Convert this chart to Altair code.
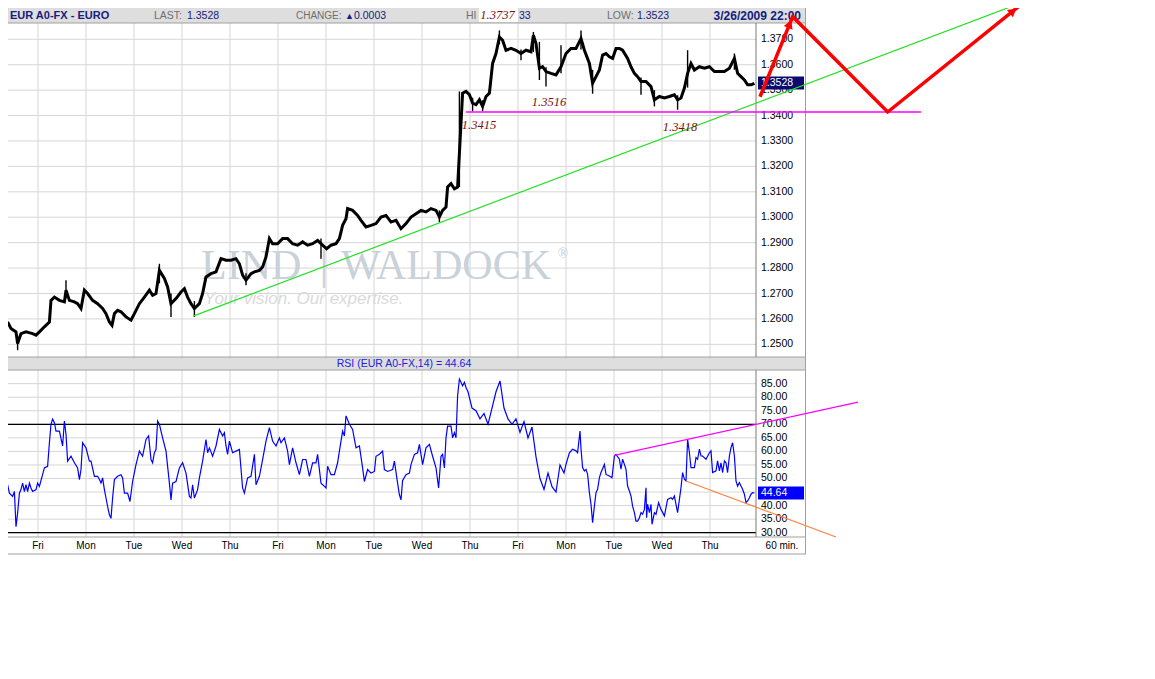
import altair as alt
import pandas as pd

# ------------------------------------------------------------------ data
# x unit: trading hour index (0 = Friday 00:00, one day = 24 hours, weekends skipped)
PRICE_T = [-15.2, -13.5, -11.0, -10.2, -8.5, -6.0, -2.7, -1.0, 0.7, 3.2, 5.7, 6.5, 8.2, 10.7, 13.2, 14.0,
           15.7, 18.2, 19.8, 21.5, 23.2, 24.8, 27.3, 29.8, 32.3, 34.0, 35.7, 37.0, 38.2, 39.8, 41.5, 44.0,
           46.5, 48.2, 50.7, 53.2, 55.7, 57.3, 59.0, 60.7, 63.2, 64.8, 66.5, 69.0, 71.5, 73.2, 74.8, 76.5,
           78.2, 80.7, 82.3, 84.0, 86.5, 89.0, 91.5, 94.0, 96.5, 99.0, 100.7, 102.3, 104.0, 106.5, 108.2,
           110.7, 112.3, 114.0, 115.7, 117.3, 119.8, 122.3, 124.8, 127.3, 129.8, 132.3, 134.8, 137.3, 139.8,
           141.5, 144.3, 146.5, 149.0, 150.7, 152.3, 154.0, 154.8, 157.3, 159.8, 161.5, 164.0, 166.5, 169.0,
           171.5, 174.0, 176.5, 179.0, 181.5, 184.0, 186.5, 189.0, 191.5, 194.0, 196.5, 199.0, 200.7, 202.3,
           204.0, 204.8, 206.5, 208.2, 209.8,
           212.3, 214.0, 215.7, 217.3, 219.0, 220.7, 222.3, 224.0, 225.7, 227.3, 229.0, 230.7, 232.3, 234.0,
           236.5, 239.0, 241.5, 244.0, 246.5, 247.7, 249.0, 250.7, 252.3, 254.0, 256.5, 259.0, 261.5, 264.0,
           266.5, 269.0, 271.5, 273.2, 275.7, 277.3, 279.0, 280.7, 282.3, 284.0, 285.7, 287.3, 289.0, 290.7,
           292.3, 294.8, 296.5, 298.2, 299.8, 301.5, 304.0, 306.5, 308.2, 310.7, 313.2, 315.7, 318.2, 319.8,
           321.5, 323.2, 324.8, 326.5, 328.2, 330.7, 333.2, 335.7, 338.2, 340.7, 343.2, 345.7, 348.2, 349.8,
           351.5, 353.2, 354.8, 356.5, 358.2]
PRICE_V = [1.2588, 1.2562, 1.2549, 1.2503, 1.2542, 1.2549, 1.2542, 1.2536, 1.2549, 1.2569, 1.2588, 1.2673,
           1.2686, 1.2673, 1.2667, 1.2713, 1.2673, 1.2667, 1.2660, 1.2641, 1.2713, 1.2700, 1.2673, 1.2660,
           1.2641, 1.2621, 1.2588, 1.2575, 1.2621, 1.2634, 1.2628, 1.2608, 1.2595, 1.2621, 1.2660, 1.2686,
           1.2713, 1.2693, 1.2700, 1.2791, 1.2759, 1.2726, 1.2660, 1.2680, 1.2706, 1.2719, 1.2686, 1.2660,
           1.2641, 1.2660, 1.2700, 1.2765, 1.2778, 1.2785, 1.2837, 1.2831, 1.2831, 1.2837, 1.2817, 1.2772,
           1.2752, 1.2778, 1.2785, 1.2791, 1.2804, 1.2844, 1.2916, 1.2896, 1.2896, 1.2916, 1.2916, 1.2896,
           1.2890, 1.2903, 1.2890, 1.2896, 1.2909, 1.2896, 1.2876, 1.2890, 1.2896, 1.2916, 1.2968, 1.2994,
           1.3034, 1.3027, 1.3007, 1.2988, 1.2962, 1.2968, 1.2975, 1.3001, 1.3007, 1.2981, 1.2988, 1.2955,
           1.2975, 1.3001, 1.3014, 1.3027, 1.3021, 1.3034, 1.3027, 1.3001, 1.3027, 1.3040, 1.3119, 1.3132,
           1.3112, 1.3119,
           1.3488, 1.3495, 1.3482, 1.3449, 1.3443, 1.3462, 1.3436, 1.3475, 1.3488, 1.3605, 1.3644, 1.3709,
           1.3696, 1.3657, 1.3664, 1.3657, 1.3644, 1.3657, 1.3651, 1.3716, 1.3683, 1.3586, 1.3592, 1.3573,
           1.3566, 1.3560, 1.3592, 1.3644, 1.3664, 1.3664, 1.3703, 1.3657, 1.3605, 1.3527, 1.3553, 1.3579,
           1.3638, 1.3644, 1.3631, 1.3625, 1.3664, 1.3664, 1.3657, 1.3625, 1.3592, 1.3566, 1.3553, 1.3534,
           1.3534, 1.3514, 1.3462, 1.3475, 1.3469, 1.3475, 1.3482, 1.3462, 1.3469, 1.3508, 1.3566, 1.3605,
           1.3579, 1.3592, 1.3586, 1.3592, 1.3573, 1.3573, 1.3573, 1.3586, 1.3625, 1.3566, 1.3553, 1.3540,
           1.3521, 1.3521, 1.3527]

WICK_T = [-10.2, 14.0, 60.7, 66.5, 78.2, 104.0, 141.5, 200.7, 210.7, 217.3, 222.3, 230.7, 241.5, 247.7,
          250.7, 254.0, 261.5, 271.5, 277.3, 301.5, 308.2, 319.8, 324.8, 348.2]
WICK_LO = [1.2477, 1.2680, 1.2740, 1.2608, 1.2608, 1.2732, 1.2837, 1.2981, 1.3119, 1.3417, 1.3417, 1.3680,
           1.3618, 1.3650, 1.3540, 1.3514, 1.3566, 1.3660, 1.3486, 1.3482, 1.3436, 1.3423, 1.3510, 1.3580]
WICK_HI = [1.2530, 1.2752, 1.2817, 1.2700, 1.2670, 1.2780, 1.2916, 1.3027, 1.3495, 1.3470, 1.3460, 1.3735,
           1.3660, 1.3729, 1.3690, 1.3590, 1.3677, 1.3735, 1.3580, 1.3550, 1.3500, 1.3480, 1.3657, 1.3644]

RSI_T = [-15.2, -14.3, -12.7, -11.8, -11.0, -10.2, -9.3, -8.5, -7.7, -6.8, -6.0, -5.2, -4.3, -3.5, -2.7,
         -1.0, -0.2, 0.7, 2.3, 3.2, 4.8, 5.7, 6.5, 7.3, 8.2, 9.0, 10.7, 12.3, 13.2, 14.0, 14.8, 16.5, 18.2,
         19.8, 20.7, 21.5, 22.3, 24.0, 25.7, 26.5, 28.2, 29.8, 30.7, 31.5, 32.3, 33.2, 34.0, 34.8, 35.7,
         36.5, 37.3, 38.2, 39.8, 41.5, 42.3, 43.2, 44.8, 46.0, 47.3, 49.0, 50.7, 52.3, 54.0, 55.3, 56.5,
         57.3, 58.2, 59.0, 59.8, 60.7, 62.3, 64.0, 65.7, 66.5, 67.3, 69.0, 70.7, 72.3, 74.0, 75.7, 76.5,
         77.3, 78.2, 79.8, 80.7, 82.3, 84.0, 84.8, 85.7, 87.3, 89.0, 90.7, 92.3, 93.2, 94.0, 94.8, 95.7,
         97.3, 99.0, 100.7, 102.3, 103.2, 104.8, 106.5, 108.2, 109.0, 110.7, 112.3, 114.0, 115.7, 117.3,
         119.0, 120.7, 121.5, 123.2, 124.8, 125.7, 127.3, 129.0, 130.7, 132.3, 134.0, 135.7, 137.3, 139.0,
         139.8, 141.5, 143.2, 144.0, 144.8, 146.5, 148.2, 149.8, 150.7, 152.3, 153.2, 154.0, 155.7, 157.3,
         159.0, 160.7, 162.3, 163.2, 164.8, 166.5, 168.2, 169.0, 170.7, 171.5, 172.3, 173.2, 174.8, 177.3,
         178.2, 179.8, 180.7, 181.5, 182.3, 184.0, 185.7, 186.5, 188.2, 189.8, 190.7, 192.3, 194.0, 195.7,
         197.3, 199.0, 200.3, 201.5, 202.3, 203.2, 204.0, 204.8, 206.5, 207.3, 208.2, 209.0, 209.8, 210.7,
         211.5, 212.3, 213.2, 214.0,
         215.0, 217.0, 219.0, 221.0, 223.0, 225.0, 227.0, 229.0, 231.0, 233.0, 235.0, 237.0, 239.0, 241.0,
         243.0, 245.0, 247.0, 249.0, 251.0, 253.0, 255.0, 257.0, 259.0, 261.0, 263.0,
         264.0, 265.7, 267.3, 269.0, 269.8, 271.0, 271.5, 272.3, 273.2, 274.0, 274.8, 275.7, 276.5, 277.3,
         278.2, 279.0, 279.8, 280.7, 281.5, 283.2, 284.0, 285.7, 287.0, 288.2, 289.0, 290.7, 291.5, 292.3,
         293.2, 294.0, 294.8, 295.7, 296.5, 297.3, 298.2, 299.0, 299.8, 300.7, 301.5, 302.3, 303.2, 304.0,
         304.3, 304.8, 305.7, 306.5, 307.0, 308.2, 309.0, 310.3, 311.5, 313.2, 314.8, 316.5, 317.3, 318.2,
         319.8, 321.5, 322.3, 323.2, 324.0, 324.8, 325.7, 326.5, 328.2, 329.0, 329.8, 330.7, 331.5, 332.3,
         334.0, 335.7, 336.5, 337.3, 339.0, 339.8, 340.7, 341.5, 342.3, 343.2, 344.0, 344.8, 345.7, 346.5,
         347.3, 348.2, 349.0, 349.8, 350.7, 351.5, 352.3, 353.2, 354.0, 354.8, 355.7, 356.5, 357.3, 358.2]
RSI_V = [47.7, 44.6, 43.4, 45.2, 32.2, 37.2, 44.6, 45.9, 48.3, 45.2, 47.7, 45.2, 48.3, 46.5, 45.2,
         45.9, 48.3, 47.1, 51.4, 53.9, 54.5, 63.2, 70.0, 71.9, 70.6, 67.5, 67.5, 62.0, 71.2, 66.3, 56.4, 58.2, 55.8,
         53.9, 49.6, 53.3, 63.2, 61.3, 56.4, 56.4, 50.8, 50.8, 49.6, 48.3, 50.2, 45.9, 42.8, 39.7, 36.6,
         35.3, 42.8, 49.6, 50.8, 51.4, 50.2, 44.6, 44.6, 41.5, 48.9, 55.1, 60.1, 58.2, 64.4, 65.7, 57.0,
         55.8, 59.5, 60.7, 71.2, 70.0, 65.0, 60.1, 48.3, 42.1, 48.3, 48.9, 53.9, 55.8, 52.0, 43.4, 42.8,
         47.7, 42.8, 45.9, 50.2, 56.4, 64.4, 59.5, 61.3, 58.2, 62.0, 68.1, 65.7, 66.9, 62.0, 58.9, 63.8,
         59.5, 60.1, 60.7, 46.5, 44.6, 50.2, 50.8, 58.9, 47.7, 50.8, 57.0, 63.8, 68.8, 63.8,
         62.0, 65.0, 63.2, 65.0, 60.1, 55.1, 61.3, 55.8, 51.4, 57.0, 57.0, 50.8, 55.8, 55.8,
         58.9, 48.3, 47.1, 46.5, 54.5, 51.4, 51.4, 55.8, 60.1, 67.5, 65.7, 73.1, 70.0, 68.1,
         61.3, 62.0, 53.9, 48.9, 53.3, 52.0, 52.6, 58.2, 58.9, 59.5, 60.1, 53.3, 52.6, 53.3,
         56.4, 48.3, 44.0, 42.1, 49.3, 51.4, 52.0, 55.1, 58.9, 59.5, 62.6, 55.1, 61.3, 62.6,
         58.2, 53.9, 46.5, 58.2, 58.9, 53.9, 65.0, 69.3, 69.3, 65.0, 66.9, 65.0, 80.5, 86.7,
         85.5, 84.2, 85.5, 83.6,
         82.0, 76.0, 75.0, 72.0, 74.0, 70.0, 76.0, 82.0, 86.0, 76.0, 72.0, 70.0, 72.0, 67.0,
         71.0, 65.0, 69.0, 58.0, 50.0, 46.0, 52.0, 47.0, 45.0, 55.0, 52.0,
         55.2, 59.5, 60.8, 60.2, 59.5, 67.5, 61.0, 54.0, 52.8, 53.4, 51.5, 44.8, 40.5, 33.7,
         39.8, 44.8, 46.0, 50.3, 52.2, 55.2, 51.5, 50.9, 50.3, 58.3, 58.9, 57.1, 53.4, 57.1,
         55.2, 53.4, 47.2, 45.4, 43.5, 39.8, 37.4, 34.3, 34.3, 35.5, 37.4, 36.8, 38.6, 46.6,
         35.5, 40.5, 37.4, 40.5, 33.1, 37.4, 36.8, 41.1, 38.6, 36.2, 42.3, 42.9, 42.3, 43.5,
         37.4, 46.6, 52.2, 49.7, 49.1, 64.5, 59.5, 54.0, 54.0, 57.7, 57.1, 60.8, 58.3, 58.3,
         57.1, 59.5, 60.2, 52.2, 52.8, 56.5, 52.8, 55.8, 52.2, 56.5, 55.8, 52.2, 58.3, 61.4,
         63.2, 58.3, 49.1, 47.2, 48.5, 47.2, 46.0, 44.2, 41.1, 41.7, 42.9, 44.2, 44.8, 44.64]

DAY_T = [0, 24, 48, 72, 96, 120, 144, 168, 192, 216, 240, 264, 288, 312, 336]
DAY_LABELS = ["Fri", "Mon", "Tue", "Wed", "Thu", "Fri", "Mon", "Tue", "Wed", "Thu",
              "Fri", "Mon", "Tue", "Wed", "Thu"]
PRICE_TICKS = [1.25, 1.26, 1.27, 1.28, 1.29, 1.30, 1.31, 1.32, 1.33, 1.34, 1.35, 1.36, 1.37]
RSI_TICKS = [30, 35, 40, 45, 50, 55, 60, 65, 70, 75, 80, 85]
RSI_LEVELS = [30, 70]

LAST_PRICE = 1.3528
LAST_RSI = 44.64

# drawn studies (trend lines) and notes
GREEN_T = [77.85, 487.35]
GREEN_V = [1.2612, 1.3831]
SUPPORT_T = [214.0, 441.5]
SUPPORT_V = [1.3414, 1.3414]
ZIGZAG_T = [361.0, 377.35, 424.85, 490.65]
ZIGZAG_V = [1.3474, 1.3789, 1.3414, 1.3831]
ARROW_T = [375.85, 487.55]
ARROW_V = [1.3760, 1.3811]
ARROW_ANGLE = [22, 51]
RSI_UP_T = [288.15, 410.0]
RSI_UP_V = [58.56, 78.15]
RSI_DN_T = [324.0, 399.0]
RSI_DN_V = [49.08, 28.41]
NOTE_T = [220.5, 255.5, 321.0]
NOTE_V = [1.3363, 1.3453, 1.3355]
NOTE_TEXT = ["1.3415", "1.3516", "1.3418"]
HIGH_NOTE_T = [229.75]
HIGH_NOTE_V = [1.3797]
HIGH_NOTE_TEXT = ["1.3737"]

# ------------------------------------------------------------------ scales / style
XS = alt.Scale(domain=[-16, 534], nice=False, zero=False)
PS = alt.Scale(domain=[1.14707, 1.38310], nice=False, zero=False)
RS = alt.Scale(domain=[2.95, 224.35], nice=False, zero=False)

SANS = "Liberation Sans"
SERIF = "Liberation Serif"
GRID = "#D6D6D6"
FRAME = "#A0A0A0"
HDR_BG = "#DEDEDE"
HDR_GRAY = "#6E6E6E"
HDR_NAVY = "#14207E"
NOTE_RED = "#7A1010"
HY = 9.5  # header text line

ONE = pd.DataFrame({"k": [0]})


def X(f="t"):
    return alt.X(f"{f}:Q", scale=XS, axis=None)


def YP(f="v"):
    return alt.Y(f"{f}:Q", scale=PS, axis=None)


def YR(f="r"):
    return alt.Y(f"{f}:Q", scale=RS, axis=None)


def txt(s, x, y, **kw):
    return alt.Chart(ONE).mark_text(text=s, **kw).encode(x=alt.value(x), y=alt.value(y))


def box(x1, x2, y1, y2, **kw):
    return alt.Chart(ONE).mark_rect(**kw).encode(
        x=alt.value(x1), x2=alt.value(x2), y=alt.value(y1), y2=alt.value(y2))


def hline(y, x1, x2, color=FRAME, w=1):
    return alt.Chart(ONE).mark_rule(color=color, strokeWidth=w).encode(
        x=alt.value(x1), x2=alt.value(x2), y=alt.value(y))


def vline(x, y1, y2, color=FRAME, w=1):
    return alt.Chart(ONE).mark_rule(color=color, strokeWidth=w).encode(
        x=alt.value(x), y=alt.value(y1), y2=alt.value(y2))


price_df = pd.DataFrame({"t": PRICE_T, "v": PRICE_V})
wick_df = pd.DataFrame({"t": WICK_T, "lo": WICK_LO, "hi": WICK_HI})
rsi_df = pd.DataFrame({"t": RSI_T, "r": RSI_V})
day_df = pd.DataFrame({"t": DAY_T, "label": DAY_LABELS})
ptick_df = pd.DataFrame({"v": PRICE_TICKS, "label": [f"{p:.4f}" for p in PRICE_TICKS]})
rtick_df = pd.DataFrame({"r": RSI_TICKS, "label": [f"{r:.2f}" for r in RSI_TICKS]})
lvl_df = pd.DataFrame({"r": RSI_LEVELS})
last_p_df = pd.DataFrame({"v": [LAST_PRICE], "lo": [LAST_PRICE - 0.00256], "hi": [LAST_PRICE + 0.00256],
                          "label": [f"{LAST_PRICE:.4f}"]})
last_r_df = pd.DataFrame({"r": [LAST_RSI], "lo": [LAST_RSI - 2.4], "hi": [LAST_RSI + 2.4],
                          "label": [f"{LAST_RSI:.2f}"]})
green_df = pd.DataFrame({"t": GREEN_T, "v": GREEN_V})
support_df = pd.DataFrame({"t": SUPPORT_T, "v": SUPPORT_V})
zig_df = pd.DataFrame({"t": ZIGZAG_T, "v": ZIGZAG_V, "o": list(range(len(ZIGZAG_T)))})
arrow_df = pd.DataFrame({"t": ARROW_T, "v": ARROW_V, "a": ARROW_ANGLE})
rup_df = pd.DataFrame({"t": RSI_UP_T, "r": RSI_UP_V})
rdn_df = pd.DataFrame({"t": RSI_DN_T, "r": RSI_DN_V})
note_df = pd.DataFrame({"t": NOTE_T, "v": NOTE_V, "label": NOTE_TEXT})
high_df = pd.DataFrame({"t": HIGH_NOTE_T, "v": HIGH_NOTE_V, "label": HIGH_NOTE_TEXT})

layers = []

# panel backgrounds
layers.append(box(0, 800, 0, 17, color=HDR_BG))
layers.append(box(0, 800, 351, 364, color=HDR_BG))

# grid
layers.append(alt.Chart(day_df).mark_rule(color=GRID).encode(x=X(), y=alt.value(17), y2=alt.value(351)))
layers.append(alt.Chart(day_df).mark_rule(color=GRID).encode(x=X(), y=alt.value(364), y2=alt.value(531)))
layers.append(alt.Chart(ptick_df).mark_rule(color=GRID).encode(y=YP(), x=alt.value(0), x2=alt.value(750)))
layers.append(alt.Chart(rtick_df).mark_rule(color=GRID).encode(y=YR(), x=alt.value(0), x2=alt.value(750)))

# watermark
WM = "#C9D1D9"
layers.append(txt("LIND", 195, 273, font=SERIF, fontSize=42, color=WM, align="left", baseline="alphabetic"))
layers.append(txt("|", 318, 273, font=SERIF, fontSize=42, color=WM, align="center", baseline="alphabetic"))
layers.append(txt("WALDOCK", 335, 273, font=SERIF, fontSize=42, color=WM, align="left", baseline="alphabetic"))
layers.append(txt("®", 557, 252, font=SERIF, fontSize=14, color=WM, align="center", baseline="alphabetic"))
layers.append(txt("Your vision. Our expertise.", 198, 298, font=SANS, fontSize=17, fontStyle="italic",
                  color="#DADADA", align="left", baseline="alphabetic"))

# price bars
layers.append(alt.Chart(wick_df).mark_rule(color="black", strokeWidth=1.4).encode(
    x=X(), y=YP("lo"), y2=alt.Y2("hi:Q")))
layers.append(alt.Chart(price_df).mark_line(color="black", strokeWidth=3.0).encode(x=X(), y=YP()))

# RSI
layers.append(alt.Chart(lvl_df).mark_rule(color="black", strokeWidth=1.3).encode(
    y=YR(), x=alt.value(0), x2=alt.value(750)))
layers.append(alt.Chart(rsi_df).mark_line(color="#0000FF", strokeWidth=1.2).encode(x=X(), y=YR()))

# frame
layers.append(hline(17, 0, 800))
layers.append(hline(351, 0, 800))
layers.append(hline(364, 0, 800))
layers.append(hline(531, 0, 800))
layers.append(hline(548, 0, 800))
layers.append(vline(799.5, 0, 548))
layers.append(vline(0.5, 0, 548))
layers.append(vline(750, 17, 351, color="#7A7A7A"))
layers.append(vline(750, 364, 531, color="#7A7A7A"))

# axis labels
layers.append(alt.Chart(ptick_df).mark_text(font=SANS, fontSize=10.5, align="left", baseline="middle",
                                            color="black").encode(
    y=YP(), x=alt.value(755), text="label:N"))
layers.append(alt.Chart(rtick_df).mark_text(font=SANS, fontSize=10.5, align="left", baseline="middle",
                                            color="black").encode(
    y=YR(), x=alt.value(755), text="label:N"))
layers.append(alt.Chart(day_df).mark_text(font=SANS, fontSize=10, align="center", baseline="middle",
                                          color="black").encode(
    x=X(), y=alt.value(540), text="label:N"))
layers.append(txt("60 min.", 776, 540, font=SANS, fontSize=10, align="center", baseline="middle", color="black"))

# header (the HIGH field is partly hidden by the 1.3737 note, only its visible parts are drawn)
layers.append(txt("EUR A0-FX - EURO", 4, HY, font=SANS, fontSize=11, fontWeight="bold", color=HDR_NAVY,
                  align="left", baseline="middle"))
layers.append(txt("LAST:", 148, HY, font=SANS, fontSize=10.5, color=HDR_GRAY, align="left", baseline="middle"))
layers.append(txt("1.3528", 181, HY, font=SANS, fontSize=10.5, color=HDR_NAVY, align="left", baseline="middle"))
layers.append(txt("CHANGE:", 290, HY, font=SANS, fontSize=10, color=HDR_GRAY, align="left", baseline="middle"))
layers.append(txt("▲", 339, HY, font=SANS, fontSize=9, color=HDR_NAVY, align="left", baseline="middle"))
layers.append(txt("0.0003", 348, HY, font=SANS, fontSize=10.5, color=HDR_NAVY, align="left", baseline="middle"))
layers.append(txt("HI", 460, HY, font=SANS, fontSize=10.5, color=HDR_GRAY, align="left", baseline="middle"))
layers.append(txt("33", 513, HY, font=SANS, fontSize=10.5, color=HDR_NAVY, align="left", baseline="middle"))
layers.append(txt("LOW:", 601, HY, font=SANS, fontSize=10.5, color=HDR_GRAY, align="left", baseline="middle"))
layers.append(txt("1.3523", 631, HY, font=SANS, fontSize=10.5, color=HDR_NAVY, align="left", baseline="middle"))
layers.append(txt("3/26/2009 22:00", 795, HY, font=SANS, fontSize=12, fontWeight="bold", color=HDR_NAVY,
                  align="right", baseline="middle"))

# RSI title
layers.append(txt("RSI (EUR A0-FX,14) = 44.64", 398, 358, font=SANS, fontSize=10.5, color="#2020E0",
                  align="center", baseline="middle"))

# last value boxes
layers.append(alt.Chart(last_p_df).mark_rect(color="#0A0A70").encode(
    x=alt.value(752), x2=alt.value(798), y=YP("lo"), y2=alt.Y2("hi:Q")))
layers.append(alt.Chart(last_p_df).mark_text(font=SANS, fontSize=10.5, color="white", align="left",
                                             baseline="middle").encode(
    x=alt.value(755), y=YP(), text="label:N"))
layers.append(alt.Chart(last_r_df).mark_rect(color="#0000FF").encode(
    x=alt.value(752), x2=alt.value(798), y=YR("lo"), y2=alt.Y2("hi:Q")))
layers.append(alt.Chart(last_r_df).mark_text(font=SANS, fontSize=10.5, color="white", align="left",
                                             baseline="middle").encode(
    x=alt.value(755), y=YR(), text="label:N"))

# drawn studies
layers.append(alt.Chart(green_df).mark_line(color="#22E022", strokeWidth=1.2).encode(x=X(), y=YP()))
layers.append(alt.Chart(support_df).mark_line(color="#FF00FF", strokeWidth=1.5).encode(x=X(), y=YP()))
layers.append(alt.Chart(rup_df).mark_line(color="#FF00FF", strokeWidth=1.2).encode(x=X(), y=YR()))
layers.append(alt.Chart(rdn_df).mark_line(color="#FF8040", strokeWidth=1.2).encode(x=X(), y=YR()))
layers.append(alt.Chart(zig_df).mark_line(color="#FF0000", strokeWidth=3.5).encode(
    x=X(), y=YP(), order="o:Q"))
layers.append(alt.Chart(arrow_df).mark_point(shape="triangle-up", filled=True, color="#FF0000", size=90,
                                             opacity=1).encode(
    x=X(), y=YP(), angle=alt.Angle("a:Q", scale=None)))

# notes
layers.append(alt.Chart(note_df).mark_text(font=SERIF, fontSize=12.5, fontStyle="italic", color=NOTE_RED,
                                           align="center", baseline="middle").encode(
    x=X(), y=YP(), text="label:N"))
layers.append(box(473, 512, 0, 16, color="white"))
layers.append(alt.Chart(high_df).mark_text(font=SERIF, fontSize=12.5, fontStyle="italic", color=NOTE_RED,
                                           align="center", baseline="middle").encode(
    x=X(), y=YP(), text="label:N"))

chart = (
    alt.layer(*layers)
    .resolve_scale(y="independent")
    .properties(width=1100, height=600, autosize=alt.AutoSizeParams(type="none"),
                padding={"left": -2, "top": -2, "right": 0, "bottom": 0})
    .configure(background="white")
    .configure_view(stroke=None)
)

chart.save("out.html", embed_options={"renderer": "svg", "actions": False})
